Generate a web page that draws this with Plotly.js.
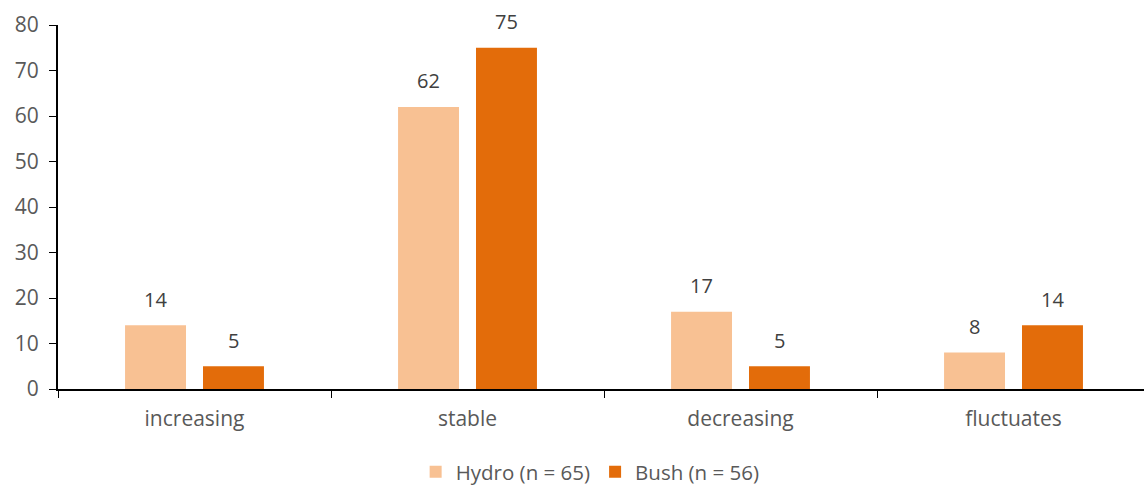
<!DOCTYPE html>
<html>
<head>
<meta charset="utf-8">
<script src="https://cdn.plot.ly/plotly-3.0.1.min.js"></script>
<style>html,body{margin:0;padding:0;background:#fff;}#chart{width:1144px;height:486px;}</style>
</head>
<body>
<div id="chart"></div>
<script>
const categories = ["increasing", "stable", "decreasing", "fluctuates"];
const hydroName = "Hydro (n = 65)";
const bushName = "Bush (n = 56)";
const hydroValues = [14, 62, 17, 8];
const bushValues = [5, 75, 5, 14];
const yTicks = [0, 10, 20, 30, 40, 50, 60, 70, 80];

const FONT = "Open Sans, Liberation Sans, sans-serif";
const hydroColor = "#F8C193";
const bushColor = "#E36C0A";

const traces = [
  {type: "bar", name: hydroName, x: categories, y: hydroValues, marker: {color: hydroColor}, hoverinfo: "skip"},
  {type: "bar", name: bushName, x: categories, y: bushValues, marker: {color: bushColor}, hoverinfo: "skip"}
];

const annotations = [];
[[hydroValues, -39], [bushValues, 39]].forEach(([vals, shift]) => {
  vals.forEach((v, i) => {
    annotations.push({x: categories[i], y: v, xref: "x", yref: "y", text: String(v), showarrow: false,
      xshift: shift, yshift: 26, yanchor: "middle", font: {family: FONT, size: 20, color: "#404040"}});
  });
});

const layout = {
  width: 1144, height: 486,
  margin: {l: 58, r: 0, t: 25, b: 97, autoexpand: false},
  paper_bgcolor: "#fff", plot_bgcolor: "#fff",
  barmode: "group", bargap: 0.429, bargroupgap: 0.218,
  showlegend: true,
  legend: {orientation: "h", x: 0.49, xanchor: "center", xref: "paper", y: 0.029, yref: "container", yanchor: "middle",
    font: {family: FONT, size: 20.5, color: "#595959"}, tracegroupgap: 0},
  xaxis: {type: "category", range: [-0.5, 3.478], showline: true, linecolor: "#000", linewidth: 2,
    ticks: "outside", tickson: "boundaries", ticklen: 7, tickcolor: "#000", tickwidth: 1, automargin: false,
    ticklabelstandoff: 10,
    showgrid: false, zeroline: false, tickfont: {family: FONT, size: 21, color: "#595959"}},
  yaxis: {range: [0, 80], tickvals: yTicks, showline: true, linecolor: "#000", linewidth: 2, automargin: false,
    ticks: "outside", ticklen: 7, tickcolor: "#000", tickwidth: 1, showgrid: false, zeroline: false,
    ticklabelstandoff: 6,
    tickfont: {family: FONT, size: 21, color: "#595959"}},
  annotations: annotations,
  font: {family: FONT}
};

Plotly.newPlot("chart", traces, layout, {displayModeBar: false, staticPlot: true});
</script>
</body>
</html>
